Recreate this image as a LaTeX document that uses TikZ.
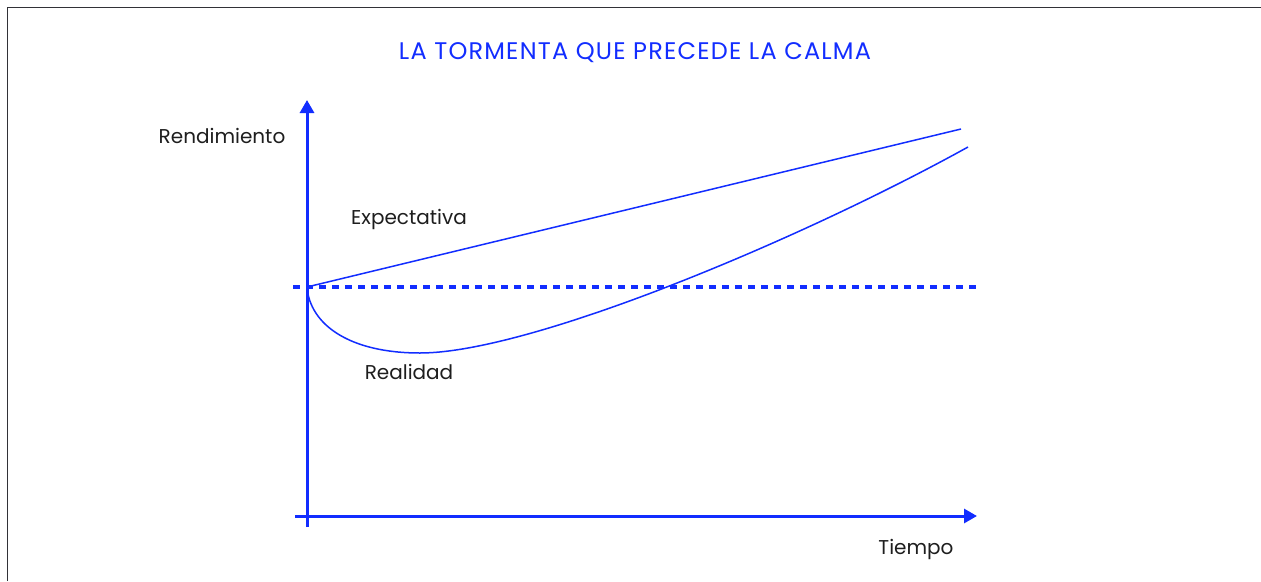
\documentclass[tikz,border=0pt]{standalone}
\usepackage{fontspec}
\setmainfont{Poppins}
\usetikzlibrary{arrows.meta}
\definecolor{cblue}{RGB}{18,45,255}
\definecolor{ctext}{RGB}{30,30,30}
\definecolor{cframe}{RGB}{50,50,55}
\begin{document}
\begin{tikzpicture}[x=1pt,y=-1pt,
  axis/.style={draw=cblue,line width=3pt},
  curve/.style={draw=cblue,line width=1.5pt},
  lbl/.style={text=ctext,font=\fontsize{20}{24}\selectfont,inner sep=0pt},
]
\useasboundingbox (0,0) rectangle (1261,581);
\fill[white] (0,0) rectangle (1261,581);
\draw[cframe,line width=1.5pt] (7.5,581) -- (7.5,7.5) -- (1261,7.5);
\node[text=cblue,font=\fontsize{24}{28}\selectfont\addfontfeatures{LetterSpace=5}, inner sep=0pt] (title) at (635,53) {LA TORMENTA QUE PRECEDE LA CALMA};
\coordinate (ybot) at (307,527);
\coordinate (ytop) at (307,100);
\coordinate (xl) at (295,516);
\coordinate (xr) at (977,516);
\coordinate (o) at (307,287);
\coordinate (dl) at (293,287);
\coordinate (dr) at (977,287);
\coordinate (e) at (961,129);
\coordinate (m) at (420,353);
\coordinate (r) at (968,147);
\draw[axis,-{Triangle[length=13pt,width=14pt]}] (ybot) -- (ytop);
\draw[axis,-{Triangle[length=13pt,width=14pt]}] (xl) -- (xr);
\draw[draw=cblue,line width=3.2pt,dash pattern=on 7pt off 6pt] (dl) -- (dr);
\draw[curve] (o) -- (e);
\draw[curve] (o) .. controls (310,325) and (350,353) .. (m) .. controls (530,353) and (800,240) .. (r);
\node[lbl] (rend) at (222,136) {Rendimiento};
\node[lbl] (exp) at (409,219) {Expectativa};
\node[lbl] (real) at (409,372) {Realidad};
\node[lbl] (tiempo) at (916,549) {Tiempo};
\end{tikzpicture}
\end{document}
